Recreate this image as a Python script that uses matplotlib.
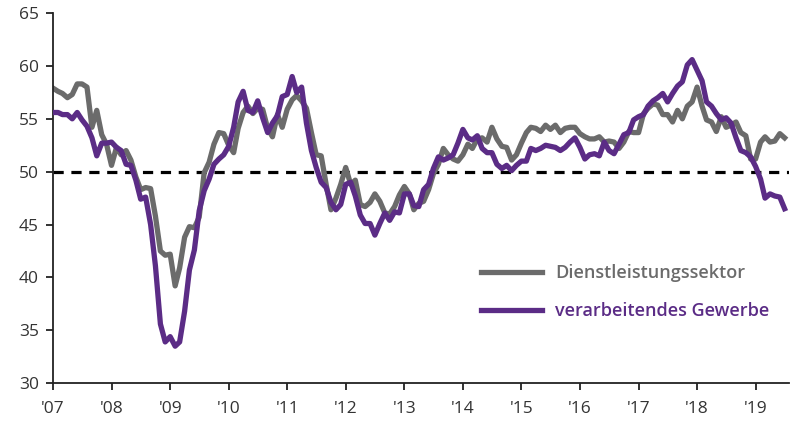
import matplotlib
matplotlib.use("Agg")
import matplotlib.pyplot as plt
import pandas as pd
from datetime import datetime

# Einkaufsmanagerindizes Eurozone, monatlich Jan 2007 - Jul 2019
dienstleistung = [
    57.9, 57.6, 57.4, 57.0, 57.3, 58.3, 58.3, 58.0, 54.2, 55.8, 53.5, 52.6,  # 2007
    50.6, 52.3, 51.6, 52.0, 51.1, 49.5, 48.3, 48.5, 48.4, 45.8, 42.5, 42.1,  # 2008
    42.2, 39.2, 40.9, 43.8, 44.8, 44.7, 45.7, 49.9, 50.9, 52.6, 53.7, 53.6,  # 2009
    52.5, 51.8, 54.1, 55.6, 56.2, 55.5, 56.0, 55.9, 54.1, 53.3, 55.4, 54.2,  # 2010
    55.9, 56.8, 57.2, 56.7, 56.0, 53.7, 51.6, 51.5, 48.8, 46.4, 47.5, 48.8,  # 2011
    50.4, 48.8, 49.2, 46.9, 46.7, 47.1, 47.9, 47.2, 46.1, 46.0, 46.7, 47.8,  # 2012
    48.6, 47.9, 46.4, 47.0, 47.2, 48.3, 49.8, 50.7, 52.2, 51.6, 51.2, 51.0,  # 2013
    51.6, 52.6, 52.2, 53.1, 53.2, 52.8, 54.2, 53.1, 52.4, 52.3, 51.1, 51.6,  # 2014
    52.7, 53.7, 54.2, 54.1, 53.8, 54.4, 54.0, 54.4, 53.7, 54.1, 54.2, 54.2,  # 2015
    53.6, 53.3, 53.1, 53.1, 53.3, 52.8, 52.9, 52.8, 52.2, 52.8, 53.8, 53.7,  # 2016
    53.7, 55.5, 56.0, 56.4, 56.3, 55.4, 55.4, 54.7, 55.8, 55.0, 56.2, 56.6,  # 2017
    58.0, 56.2, 54.9, 54.7, 53.8, 55.2, 54.2, 54.4, 54.7, 53.7, 53.4, 51.2,  # 2018
    51.2, 52.8, 53.3, 52.8, 52.9, 53.6, 53.2,                                # 2019
]

industrie = [
    55.6, 55.6, 55.4, 55.4, 55.0, 55.6, 54.9, 54.3, 53.2, 51.5, 52.7, 52.7,  # 2007
    52.8, 52.3, 52.0, 50.7, 50.6, 49.2, 47.4, 47.6, 45.0, 41.1, 35.6, 33.9,  # 2008
    34.4, 33.5, 33.9, 36.8, 40.7, 42.6, 46.3, 48.2, 49.3, 50.7, 51.2, 51.6,  # 2009
    52.4, 54.2, 56.6, 57.6, 55.8, 55.6, 56.7, 55.1, 53.7, 54.6, 55.3, 57.1,  # 2010
    57.3, 59.0, 57.5, 58.0, 54.6, 52.0, 50.4, 49.0, 48.5, 47.1, 46.4, 46.9,  # 2011
    48.8, 49.0, 47.7, 45.9, 45.1, 45.1, 44.0, 45.1, 46.1, 45.4, 46.2, 46.1,  # 2012
    47.9, 47.9, 46.8, 46.7, 48.3, 48.8, 50.3, 51.4, 51.1, 51.3, 51.6, 52.7,  # 2013
    54.0, 53.2, 53.0, 53.4, 52.2, 51.8, 51.8, 50.7, 50.3, 50.6, 50.1, 50.6,  # 2014
    51.0, 51.0, 52.2, 52.0, 52.2, 52.5, 52.4, 52.3, 52.0, 52.3, 52.8, 53.2,  # 2015
    52.3, 51.2, 51.6, 51.7, 51.5, 52.8, 52.0, 51.7, 52.6, 53.5, 53.7, 54.9,  # 2016
    55.2, 55.4, 56.2, 56.7, 57.0, 57.4, 56.6, 57.4, 58.1, 58.5, 60.1, 60.6,  # 2017
    59.6, 58.6, 56.6, 56.2, 55.5, 54.9, 55.1, 54.6, 53.2, 52.0, 51.8, 51.4,  # 2018
    50.5, 49.3, 47.5, 47.9, 47.7, 47.6, 46.5,                                # 2019
]

monate = pd.date_range("2007-01-01", periods=len(industrie), freq="MS")
jahre = list(range(2007, 2020))
jahr_labels = ["'%02d" % (j % 100) for j in jahre]
y_ticks = [30, 35, 40, 45, 50, 55, 60, 65]

grau = "#6b6b6b"
lila = "#5b2c86"

plt.rcParams["font.family"] = ["Open Sans", "DejaVu Sans"]

fig = plt.figure(figsize=(7.91, 4.22), dpi=100)
ax = fig.add_axes([0.067, 0.092, 0.931, 0.877])

ax.axhline(50, color="black", linestyle=(0, (3.2, 2.4)), linewidth=2.3, zorder=1)
ax.plot(monate, dienstleistung, color=grau, linewidth=3.8, label="Dienstleistungssektor", zorder=2)
ax.plot(monate, industrie, color=lila, linewidth=3.8, label="verarbeitendes Gewerbe", zorder=3)

ax.set_ylim(30, 65)
ax.set_xlim(datetime(2007, 1, 1), datetime(2019, 7, 31))
ax.set_yticks(y_ticks)
ax.set_xticks([datetime(j, 1, 1) for j in jahre])
ax.set_xticklabels(jahr_labels)

for s in ["top", "right"]:
    ax.spines[s].set_visible(False)
for s in ["left", "bottom"]:
    ax.spines[s].set_linewidth(1.3)
    ax.spines[s].set_color("#222222")

ax.tick_params(axis="both", direction="out", length=5, width=1.3, color="#222222",
               labelsize=12.5, labelcolor="#333333")
ax.tick_params(axis="y", pad=5)
ax.tick_params(axis="x", pad=8)

leg = ax.legend(loc="upper left", bbox_to_anchor=(0.559, 0.366), frameon=False,
                handlelength=3.4, handletextpad=0.7, labelspacing=1.1,
                prop={"size": 13, "weight": "semibold"}, labelcolor="linecolor")

fig.savefig("out.png", dpi=100)
